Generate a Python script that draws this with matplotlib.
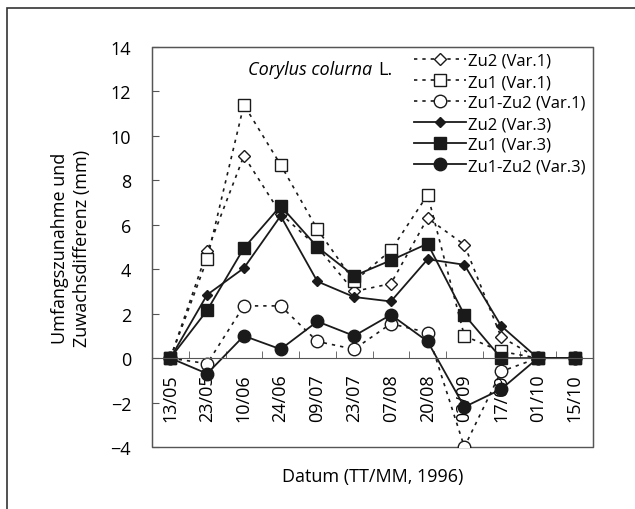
import numpy as np
import matplotlib.pyplot as plt
from matplotlib.patches import Rectangle
from matplotlib.ticker import FixedLocator

plt.rcParams['font.family'] = ['Open Sans', 'DejaVu Sans']

dates = ['13/05', '23/05', '10/06', '24/06', '09/07', '23/07',
         '07/08', '20/08', '03/09', '17/09', '01/10', '15/10']

zu2_v1 = [0, 4.8, 9.1, 6.5, 5.0, 3.0, 3.35, 6.3, 5.1, 0.95, 0, 0]
zu1_v1 = [0, 4.45, 11.4, 8.7, 5.8, 3.45, 4.85, 7.35, 1.0, 0.3, 0, 0]
diff_v1 = [0, -0.25, 2.35, 2.35, 0.75, 0.4, 1.55, 1.15, -4.0, -0.6, 0, 0]
zu2_v3 = [0, 2.85, 4.05, 6.4, 3.45, 2.75, 2.55, 4.45, 4.2, 1.45, 0, 0]
zu1_v3 = [0, 2.15, 4.95, 6.85, 5.0, 3.7, 4.4, 5.15, 1.95, 0.0, 0, 0]
diff_v3 = [0, -0.7, 1.0, 0.4, 1.65, 1.0, 1.95, 0.75, -2.2, -1.4, 0, 0]

x = np.arange(len(dates))

fig = plt.figure(figsize=(6.35, 5.1), dpi=100)
ax = fig.add_axes([152/635, 1-448/510, 441/635, 400/510])

c = '#1a1a1a'
dash = (0, (2, 3))
ax.plot(x, zu2_v1, linestyle=dash, color=c, lw=1.2, marker='D', ms=6,
        mfc='white', mec=c, mew=1.0, label='Zu2 (Var.1)')
ax.plot(x, zu1_v1, linestyle=dash, color=c, lw=1.2, marker='s', ms=9,
        mfc='white', mec=c, mew=1.0, label='Zu1 (Var.1)')
ax.plot(x, diff_v1, linestyle=dash, color=c, lw=1.2, marker='o', ms=9,
        mfc='white', mec=c, mew=1.0, label='Zu1-Zu2 (Var.1)')
ax.plot(x, zu2_v3, '-', color=c, lw=1.3, marker='D', ms=5.5,
        mfc=c, mec=c, label='Zu2 (Var.3)')
ax.plot(x, zu1_v3, '-', color=c, lw=1.3, marker='s', ms=9,
        mfc=c, mec=c, label='Zu1 (Var.3)')
ax.plot(x, diff_v3, '-', color=c, lw=1.3, marker='o', ms=9,
        mfc=c, mec=c, label='Zu1-Zu2 (Var.3)')

ax.set_xlim(-0.5, len(dates) - 0.5)
ax.set_ylim(-4, 14)
ax.set_yticks(np.arange(-4, 15, 2))

ax.spines['bottom'].set_position(('data', 0))
for s in ['top', 'left', 'right', 'bottom']:
    ax.spines[s].set_color('#555555')
ax.add_patch(Rectangle((0, 0), 1, 1, transform=ax.transAxes, fill=False,
                       ec='#555555', lw=1.0, clip_on=False))

ax.set_xticks(x)
ax.set_xticklabels(dates, rotation=90, fontsize=13)
ax.xaxis.set_minor_locator(FixedLocator(np.arange(0.5, len(dates) - 1, 1)))
ax.tick_params(axis='x', which='major', length=0, pad=11)
ax.tick_params(axis='x', which='minor', direction='in', length=5, color='#555555')
ax.tick_params(axis='y', direction='in', length=5, labelsize=13, pad=15,
               color='#555555')

ax.set_ylabel('Umfangszunahme und\nZuwachsdifferenz (mm)', fontsize=13,
              labelpad=14, linespacing=1.3)
ax.set_xlabel('Datum (TT/MM, 1996)', fontsize=13)
ax.xaxis.set_label_coords(0.5, -0.05)

ax.text(0.50, 0.945, 'Corylus colurna', style='italic', fontsize=13,
        transform=ax.transAxes, ha='right', va='center')
ax.text(0.512, 0.945, 'L.', fontsize=13, transform=ax.transAxes,
        ha='left', va='center')

ax.legend(loc='upper left', bbox_to_anchor=(0.595, 0.985), frameon=False,
          fontsize=12, handlelength=3.1, handletextpad=0.1,
          labelspacing=0.3, borderpad=0, borderaxespad=0)

fig.patches.append(Rectangle((7/635, -0.1), 1.2, 1.1 - 9/510,
                             transform=fig.transFigure, fill=False,
                             ec='#333333', lw=1.2))

fig.savefig('out.png', dpi=100)
